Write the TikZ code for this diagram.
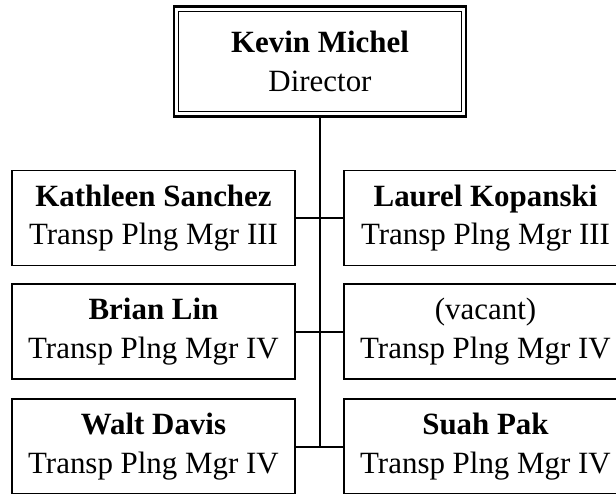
\documentclass[tikz,border=0pt]{standalone}
\usepackage{fontspec}
\setmainfont{Liberation Serif}
\usetikzlibrary{positioning}

\begin{document}
\begin{tikzpicture}[x=0.75pt, y=-0.75pt,
  persbox/.style={draw, line width=1.1pt, minimum width=212pt, minimum height=71pt,
    inner sep=0pt, align=center, font=\fontsize{23.2}{29}\selectfont},
  dirbox/.style={persbox, line width=2.2pt, minimum width=219pt, minimum height=82pt},
  link/.style={line width=1.5pt}]
\useasboundingbox (0,0) rectangle (616,493);
\clip (0,0) rectangle (616,493);

% director, with inner frame
\node[dirbox] (dir) at (320,61.5) {\textbf{Kevin Michel}\\Director};
\draw[line width=1pt] ([shift={(6,6)}]dir.north west) rectangle ([shift={(-6,-6)}]dir.south east);

% staff
\node[persbox] (sanchez) at (153.5,218) {\textbf{Kathleen Sanchez}\\Transp Plng Mgr III};
\node[persbox] (kopanski) at (485.5,218) {\textbf{Laurel Kopanski}\\Transp Plng Mgr III};
\node[persbox] (lin) at (153.5,331.5) {\textbf{Brian Lin}\\Transp Plng Mgr IV};
\node[persbox] (vacant) at (485.5,331.5) {(vacant)\\Transp Plng Mgr IV};
\node[persbox] (davis) at (153.5,446.5) {\textbf{Walt Davis}\\Transp Plng Mgr IV};
\node[persbox] (pak) at (485.5,446.5) {\textbf{Suah Pak}\\Transp Plng Mgr IV};

% lines
\draw[link] (dir.south) -- (dir.south |- davis.east);
\foreach \l/\r in {sanchez/kopanski, lin/vacant, davis/pak}
    \draw[link] (\l.east) -- (\r.west);
\end{tikzpicture}
\end{document}
